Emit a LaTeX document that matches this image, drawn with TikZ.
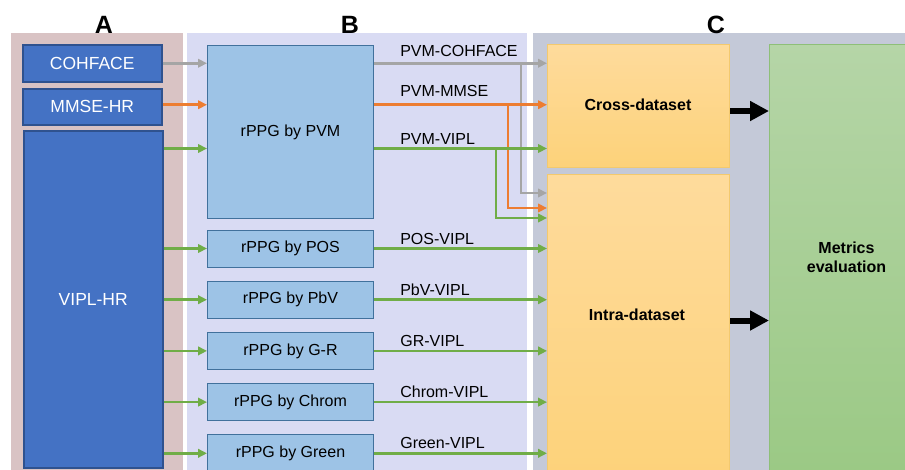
\documentclass[tikz,border=0pt]{standalone}
\usepackage{fontspec}
\setmainfont{Liberation Sans}
\usetikzlibrary{positioning, arrows.meta}

\definecolor{panelA}{HTML}{D9C3C4}
\definecolor{panelB}{HTML}{D9DBF3}
\definecolor{panelC}{HTML}{C4C9D8}
\definecolor{dsFill}{HTML}{4472C4}
\definecolor{dsLine}{HTML}{2F528F}
\definecolor{mFill}{HTML}{9DC3E6}
\definecolor{mLine}{HTML}{41719C}
\definecolor{evTop}{HTML}{FEDB9C}
\definecolor{evBot}{HTML}{FDD27A}
\definecolor{evLine}{HTML}{F3C96E}
\definecolor{metTop}{HTML}{B5D5A7}
\definecolor{metBot}{HTML}{9BC985}
\definecolor{metLine}{HTML}{8EBF78}
\definecolor{arrGray}{HTML}{A5A5A5}
\definecolor{arrOrange}{HTML}{ED7D31}
\definecolor{arrGreen}{HTML}{70AD47}

\begin{document}
\begin{tikzpicture}[x=1pt,y=-1pt,
    dataset/.style={draw=dsLine,fill=dsFill,line width=1.5pt,text=white,
        font=\fontsize{17.5}{20}\selectfont,inner sep=0pt,anchor=north west,
        minimum width=139pt},
    method/.style={draw=mLine,fill=mFill,line width=1pt,
        font=\fontsize{16}{19}\selectfont,inner sep=0pt,anchor=north west,
        minimum width=166pt,minimum height=37pt},
    evalbox/.style={draw=evLine,top color=evTop,bottom color=evBot,line width=1pt,
        anchor=north west,minimum width=182pt,inner sep=0pt},
    bold/.style={font=\fontsize{16}{19}\selectfont\bfseries,align=center},
    heading/.style={font=\fontsize{25}{28}\selectfont\bfseries,anchor=base},
    lbl/.style={font=\fontsize{16}{19}\selectfont,anchor=base west,inner sep=0pt,
        xshift=25pt,yshift=4.5pt},
    flow/.style={line width=2.6pt,-{Triangle[length=9pt,width=8.5pt]}},
    grayflow/.style={flow,draw=arrGray},
    orangeflow/.style={flow,draw=arrOrange},
    greenflow/.style={flow,draw=arrGreen},
    bigarrow/.style={line width=6pt,-{Triangle[length=19pt,width=19pt]}}]

  \useasboundingbox (0,0) rectangle (905,469);
  \clip (0,0) rectangle (905,469);

  \fill[panelA] (11,33) rectangle (183,480);
  \fill[panelB] (187,33) rectangle (527,480);
  \fill[panelC] (533,33) rectangle (920,480);

  \node[heading] (HeadA) at (104,33) {A};
  \node[heading] (HeadB) at (350,33) {B};
  \node[heading] (HeadC) at (716,33) {C};

  \node[dataset,minimum height=37pt] (Cohface) at (22,44) {COHFACE};
  \node[dataset,minimum height=36pt] (MmseHr) at (22,88) {MMSE-HR};
  \node[dataset,minimum height=337pt] (Vipl) at (23,130) {VIPL-HR};

  \node[method,minimum height=173pt] (Pvm) at (207,45) {rPPG by PVM};
  \node[method] (Pos) at (207,229.5) {rPPG by POS};
  \node[method] (Pbv) [below=13.2pt of Pos] {rPPG by PbV};
  \node[method] (Gr) [below=13.2pt of Pbv] {rPPG by G-R};
  \node[method] (Chrom) [below=13.2pt of Gr] {rPPG by Chrom};
  \node[method] (Green) [below=13.2pt of Chrom] {rPPG by Green};

  \node[evalbox,minimum height=123pt] (Cross) at (547,44) {};
  \node[bold] (CrossText) at (638,105) {Cross-dataset};
  \node[evalbox,minimum height=306pt] (Intra) at (547,174) {};
  \node[bold] (IntraText) at (637,315) {Intra-dataset};
  \node[draw=metLine,top color=metTop,bottom color=metBot,line width=1pt,
        anchor=north west,minimum width=154pt,minimum height=426pt,
        bold] (Metrics) at (769,44) {Metrics\\evaluation};

  \coordinate (InV) at ([yshift=-16.5pt]Pvm.west);
  \coordinate (OutC) at (Pvm.east |- Cohface.east);
  \coordinate (OutM) at ([yshift=2pt]Pvm.east |- MmseHr.east);
  \coordinate (OutV) at (Pvm.east |- InV);

  \draw[grayflow] (Cohface.east) -- (Cohface.east -| Pvm.west);
  \draw[orangeflow] ([yshift=2pt]MmseHr.east) -- ([yshift=2pt]MmseHr.east -| Pvm.west);
  \draw[greenflow] (Vipl.east |- InV) -- (InV);
  \foreach \m in {Pos,Pbv,Gr,Chrom,Green}
    \draw[greenflow] (Vipl.east |- \m.west) -- (\m.west);

  \draw[greenflow] ([xshift=122pt]OutV) |- ([yshift=-44pt]Intra.north west);
  \draw[orangeflow] ([xshift=134pt]OutM) |- ([yshift=-34pt]Intra.north west);
  \draw[grayflow] ([xshift=147pt]OutC) |- ([yshift=-19pt]Intra.north west);

  \draw[grayflow] (OutC) node[lbl,yshift=2.5pt] {PVM-COHFACE} -- (OutC -| Cross.west);
  \draw[orangeflow] (OutM) node[lbl,yshift=3.5pt] {PVM-MMSE} -- (OutM -| Cross.west);
  \draw[greenflow] (OutV) node[lbl] {PVM-VIPL} -- (OutV -| Cross.west);
  \draw[greenflow] (Pos.east) node[lbl] {POS-VIPL} -- (Pos.east -| Intra.west);
  \draw[greenflow] (Pbv.east) node[lbl] {PbV-VIPL} -- (Pbv.east -| Intra.west);
  \draw[greenflow] (Gr.east) node[lbl] {GR-VIPL} -- (Gr.east -| Intra.west);
  \draw[greenflow] (Chrom.east) node[lbl] {Chrom-VIPL} -- (Chrom.east -| Intra.west);
  \draw[greenflow] (Green.east) node[lbl] {Green-VIPL} -- (Green.east -| Intra.west);

  \draw[bigarrow] ([yshift=-5pt]Cross.east) -- ([yshift=-5pt]Cross.east -| Metrics.west);
  \draw[bigarrow] ([yshift=7pt]Intra.east) -- ([yshift=7pt]Intra.east -| Metrics.west);

\end{tikzpicture}
\end{document}
